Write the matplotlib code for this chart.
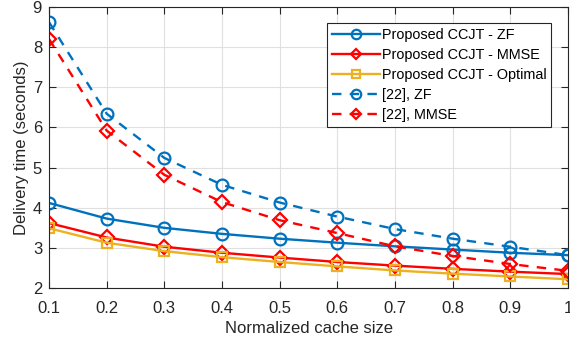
import numpy as np
import matplotlib
matplotlib.use('Agg')
from matplotlib import pyplot as plt

plt.rcParams['font.family'] = ['Liberation Sans', 'DejaVu Sans']

cache = [0.1, 0.2, 0.3, 0.4, 0.5, 0.6, 0.7, 0.8, 0.9, 1.0]
ccjt_zf = [4.12, 3.73, 3.50, 3.35, 3.23, 3.13, 3.04, 2.96, 2.88, 2.82]
ccjt_mmse = [3.62, 3.26, 3.03, 2.88, 2.76, 2.65, 2.56, 2.48, 2.41, 2.35]
ccjt_opt = [3.49, 3.13, 2.92, 2.77, 2.65, 2.54, 2.44, 2.36, 2.29, 2.22]
ref_zf = [8.62, 6.34, 5.24, 4.57, 4.13, 3.78, 3.47, 3.23, 3.03, 2.82]
ref_mmse = [8.20, 5.92, 4.82, 4.14, 3.69, 3.37, 3.04, 2.80, 2.60, 2.43]

blue = '#0072BD'
red = '#FF0000'
yellow = '#EDB120'

fig = plt.figure(figsize=(5.7, 3.43), dpi=100)
ax = fig.add_axes([0.086, 0.16, 0.9105, 0.82])

lw = 1.7
ax.plot(cache, ccjt_zf, '-o', color=blue, lw=lw, ms=8.5, mfc='none', mew=1.6, label='Proposed CCJT - ZF')
ax.plot(cache, ccjt_mmse, '-D', color=red, lw=lw, ms=7, mfc='none', mew=1.6, label='Proposed CCJT - MMSE')
ax.plot(cache, ccjt_opt, '-s', color=yellow, lw=lw, ms=6.5, mfc='none', mew=1.6, label='Proposed CCJT - Optimal')
ax.plot(cache, ref_zf, '--o', color=blue, lw=lw, ms=8.5, mfc='none', mew=1.6, dashes=(4, 3.5), label='[22], ZF')
ax.plot(cache, ref_mmse, '--D', color=red, lw=lw, ms=7, mfc='none', mew=1.6, dashes=(4, 3.5), label='[22], MMSE')

ax.set_xlim(0.1, 1)
ax.set_ylim(2, 9)
ax.set_xticks(cache)
ax.set_xticklabels(['0.1', '0.2', '0.3', '0.4', '0.5', '0.6', '0.7', '0.8', '0.9', '1'])
ax.set_yticks([2, 3, 4, 5, 6, 7, 8, 9])
ax.grid(True, color='#e0e0e0', lw=0.8)
ax.set_axisbelow(True)
ax.tick_params(direction='in', top=True, right=True, labelsize=12, colors='#262626', length=5)
ax.tick_params(axis='x', pad=9)
ax.tick_params(axis='y', pad=5)
for s in ax.spines.values():
    s.set_color('#262626')
    s.set_linewidth(0.8)
ax.set_xlabel('Normalized cache size', fontsize=12, color='#262626', labelpad=4)
ax.set_ylabel('Delivery time (seconds)', fontsize=12, color='#262626', labelpad=3)

leg = ax.legend(loc='upper right', bbox_to_anchor=(0.968, 0.943), fontsize=10.4, fancybox=False,
                framealpha=1, edgecolor='#262626', handlelength=3.3, borderpad=0.35,
                labelspacing=0.42, handletextpad=0.15, borderaxespad=0, markerscale=0.8)
leg.get_frame().set_linewidth(0.8)

fig.savefig('out.png', dpi=100)
